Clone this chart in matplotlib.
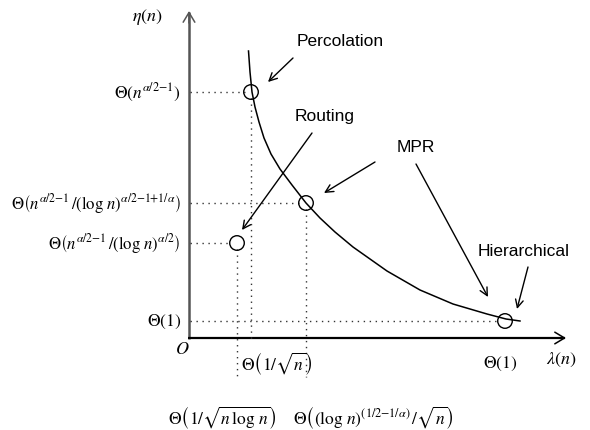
import matplotlib
matplotlib.use("Agg")
import matplotlib.pyplot as plt

plt.rcParams['mathtext.fontset'] = 'stix'
plt.rcParams['font.family'] = ['Liberation Sans', 'DejaVu Sans']

# ---- data (diagram units, origin at O) ----
curve_x = [59.5, 61, 63, 66, 70, 75, 82, 91, 103, 117, 131, 146, 164, 198, 231, 264, 298, 317, 331]
curve_y = [287, 266, 246, 231, 216, 200, 184, 169, 153, 135, 120, 106, 91, 67, 48, 34, 24, 19, 17]

point_names = ['Percolation', 'MPR', 'Routing', 'Hierarchical']
point_x = [62, 117, 48, 316]
point_y = [246, 135, 95, 17]

y_tick_labels = [r'$\Theta\left(n^{\alpha/2{-}1}\right)$',
                 r'$\Theta\left(n^{\alpha/2{-}1}\,/(\log\,n)^{\alpha/2{-}1{+}1/\alpha}\right)$',
                 r'$\Theta\left(n^{\alpha/2{-}1}\,/(\log\,n)^{\alpha/2}\right)$',
                 r'$\Theta\left(1\right)$']
x_tick_labels = [r'$\Theta\left(1/\sqrt{n}\right)$', r'$\Theta\left(1\right)$']
bottom_labels = [r'$\Theta\left(1/\sqrt{n\,\log\,n}\right)$',
                 r'$\Theta\left((\log\,n)^{(1/2{-}1/\alpha)}\,/\sqrt{n}\right)$']

fig = plt.figure(figsize=(5.9, 4.31), dpi=100)
ax = fig.add_axes([0, 0, 1, 1])
ax.set_xlim(-189, 401)
ax.set_ylim(-92, 339)
ax.axis('off')

# axes with arrows
ax.plot([0, 0], [-1, 326], color='#555555', lw=1.8, solid_capstyle='butt')
ax.plot([-1, 376], [0, 0], color='black', lw=1.6, solid_capstyle='butt')
ax.annotate('', xy=(0, 327), xytext=(0, 315),
            arrowprops=dict(arrowstyle='->,head_length=0.5,head_width=0.3',
                            color='#555555', lw=1.1, shrinkA=0, shrinkB=0,
                            mutation_scale=14))
ax.annotate('', xy=(377, 0), xytext=(365, 0),
            arrowprops=dict(arrowstyle='->,head_length=0.5,head_width=0.3',
                            color='black', lw=1.1, shrinkA=0, shrinkB=0,
                            mutation_scale=14))

# curve
ax.plot(curve_x, curve_y, color='black', lw=1.1)

# dotted guide lines
dot = dict(color='#333333', lw=1.0, linestyle=(0, (1, 3.3)))
for px, py in zip(point_x, point_y):
    ax.plot([1, px - 6], [py, py], **dot)
ax.plot([point_x[0], point_x[0]], [point_y[0] - 6, -3], **dot)
ax.plot([point_x[1], point_x[1]], [point_y[1] - 6, -39], **dot)
ax.plot([point_x[2], point_x[2]], [point_y[2] - 6, -41], **dot)

# circles
ax.scatter(point_x, point_y, s=110, facecolors='none', edgecolors='black',
           linewidths=1.0, zorder=5)

# labels of methods
ax.text(151, 297, 'Percolation', ha='center', va='center', fontsize=12.5)
ax.text(136, 222, 'Routing', ha='center', va='center', fontsize=12.5)
ax.text(227, 191, 'MPR', ha='center', va='center', fontsize=12.5)
ax.text(335, 87, 'Hierarchical', ha='center', va='center', fontsize=12.5)

arr = dict(arrowstyle='->', color='black', lw=1.0, shrinkA=0, shrinkB=0,
           mutation_scale=14)
ax.annotate('', xy=(79, 256), xytext=(104, 280), arrowprops=arr)
ax.annotate('', xy=(53, 108), xytext=(123, 205), arrowprops=arr)
ax.annotate('', xy=(135, 145), xytext=(186, 176), arrowprops=arr)
ax.annotate('', xy=(299, 41), xytext=(227, 174), arrowprops=arr)
ax.annotate('', xy=(328, 29), xytext=(339, 71), arrowprops=arr)

# math labels
mfs = 12.5
ax.text(-42, 322, r'$\eta(n)$', ha='center', va='center', fontsize=13)
ax.text(372, -21, r'$\lambda(n)$', ha='center', va='center', fontsize=13)
ax.text(-7, -11, r'$O$', ha='center', va='center', fontsize=13)

for i, (lab, yy) in enumerate(zip(y_tick_labels, point_y)):
    ax.text(-8, yy, lab, ha='right', va='center',
            fontsize=12 if i in (1, 2) else mfs)

ax.text(52, -25, x_tick_labels[0], ha='left', va='center', fontsize=mfs)
ax.text(311, -25, x_tick_labels[1], ha='center', va='center', fontsize=mfs)
ax.text(-21, -79, bottom_labels[0], ha='left', va='center', fontsize=mfs)
ax.text(104, -79, bottom_labels[1], ha='left', va='center', fontsize=mfs)

fig.savefig('out.png', dpi=100)
